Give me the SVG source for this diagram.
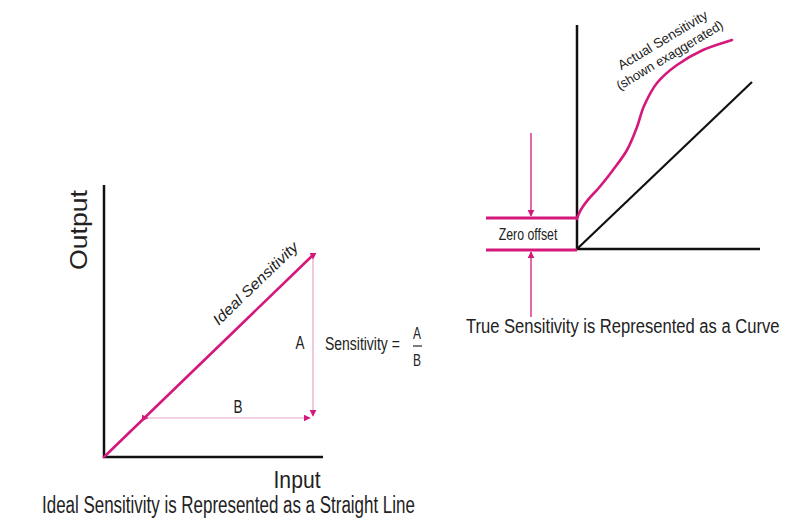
<svg xmlns="http://www.w3.org/2000/svg" width="796" height="524" viewBox="0 0 796 524">
<style>
.ax{stroke:#111;stroke-width:2.5;fill:none}
.pk{stroke:#d4187c;stroke-width:2.6;fill:none;stroke-linecap:round}
.dim{stroke:#e7a6cb;stroke-width:1.2;fill:none}
.pkt{stroke:#d4187c;stroke-width:1.3;fill:none}
.off{stroke:#d4187c;stroke-width:3;fill:none}
text{font-family:"Liberation Sans",Arial,sans-serif;fill:#222}
</style>
<defs>
<marker id="ah" viewBox="0 0 10 10" refX="9" refY="5" markerWidth="7" markerHeight="7" orient="auto" markerUnits="userSpaceOnUse">
<path d="M0,0 L10,5 L0,10 z" fill="#d4187c"/>
</marker>
</defs>
<rect width="796" height="524" fill="#fff"/>

<g id="left-chart">
<line class="ax" x1="104" y1="185" x2="104" y2="458"/>
<line class="ax" x1="103" y1="457" x2="323" y2="457"/>
<path class="pk" d="M104,457 L312,256"/>
<text x="79" y="230" font-size="23" text-anchor="middle" transform="rotate(-90 79 230)" dominant-baseline="central" textLength="80" lengthAdjust="spacingAndGlyphs">Output</text>
<text x="259" y="287" font-size="15" font-style="italic" text-anchor="middle" transform="rotate(-44 259 287)" textLength="112" lengthAdjust="spacingAndGlyphs">Ideal Sensitivity</text>
<text font-size="23" text-anchor="middle" transform="translate(297,488) scale(0.92,1)">Input</text>
</g>

<g id="dimensions">
<line class="dim" x1="313" y1="259" x2="313" y2="416" marker-start="url(#ah)" marker-end="url(#ah)"/>
<line class="dim" x1="148" y1="418" x2="310" y2="418" marker-start="url(#ah)" marker-end="url(#ah)"/>
<text font-size="18" text-anchor="middle" transform="translate(300,349) scale(0.75,1)">A</text>
<text font-size="18" text-anchor="middle" transform="translate(238,413) scale(0.75,1)">B</text>
</g>

<g id="formula">
<text font-size="19" transform="translate(325,350) scale(0.735,1)">Sensitivity =</text>
<text font-size="16" text-anchor="middle" transform="translate(417,339) scale(0.75,1)">A</text>
<line x1="413" y1="346" x2="422" y2="346" stroke="#333" stroke-width="1.3"/>
<text font-size="16" text-anchor="middle" transform="translate(417,366) scale(0.75,1)">B</text>
</g>

<text id="caption-left" font-size="23" transform="translate(42,513) scale(0.737,1)">Ideal Sensitivity is Represented as a Straight Line</text>

<g id="right-chart">
<line class="ax" x1="577" y1="25" x2="577" y2="250"/>
<line class="ax" x1="576" y1="249" x2="760" y2="249"/>
<path d="M577,249 L752,82" stroke="#111" stroke-width="2.2" fill="none"/>
<path class="pk" d="M577,219 C579,210 586,201 597,190 C602.3,184 608,176.7 613,170 C618,163.3 623,157.2 627,150 C631,142.8 634.2,134.3 637,127 C639.8,119.7 640.7,113.3 644,106 C647.3,98.7 651.5,89.8 657,83 C662.5,76.2 669.3,70.5 677,65 C684.7,59.5 693.8,54.2 703,50 C712.2,45.8 727.2,41.7 732,40"/>
<text x="665" y="44" font-size="13.5" text-anchor="middle" transform="rotate(-31 665 44)">Actual Sensitivity</text>
<text x="672" y="59" font-size="13" text-anchor="middle" transform="rotate(-31 672 59)">(shown exaggerated)</text>
</g>

<g id="zero-offset">
<line class="off" x1="486" y1="218" x2="577" y2="218"/>
<line class="off" x1="486" y1="250" x2="577" y2="250"/>
<line class="pkt" x1="531" y1="133" x2="531" y2="216" marker-end="url(#ah)"/>
<line class="pkt" x1="531" y1="317" x2="531" y2="252" marker-end="url(#ah)"/>
<text font-size="16" text-anchor="middle" transform="translate(528,240) scale(0.77,1)">Zero offset</text>
</g>

<text id="caption-right" font-size="21" transform="translate(466,333) scale(0.79,1)">True Sensitivity is Represented as a Curve</text>
</svg>
